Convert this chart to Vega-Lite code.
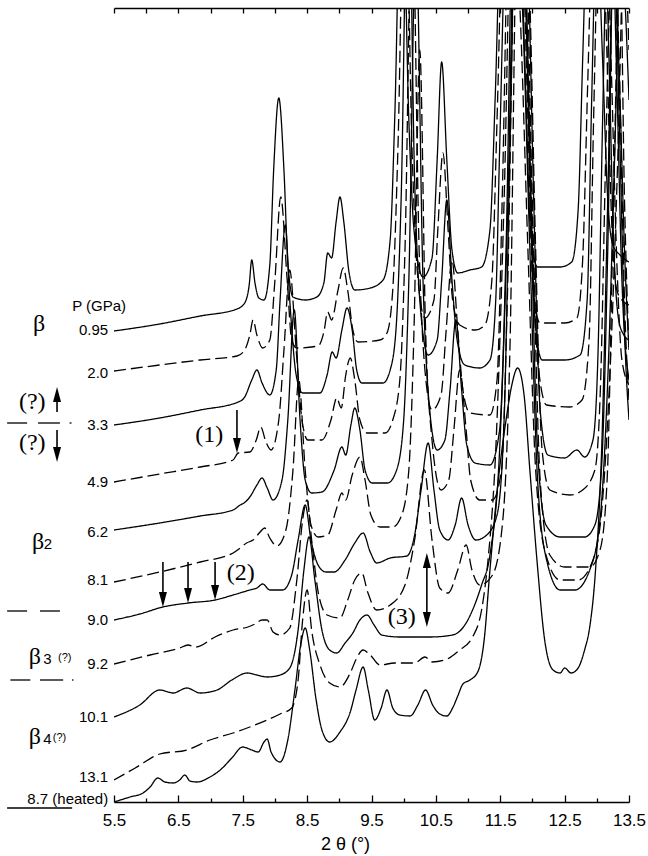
{
"$schema":"https://vega.github.io/schema/vega-lite/v6.json",
"width":515,"height":794,
"autosize":{"type":"none"},
"padding":{"left":114,"top":8,"right":19,"bottom":54},
"background":"white",
"config":{"view":{"stroke":null},"font":"Liberation Sans"},
"datasets":{
"traces":[
{"p":"0.95","x":5.5,"y":471},{"p":"0.95","x":6.21,"y":478},{"p":"0.95","x":6.84,"y":486},{"p":"0.95","x":7.41,"y":493},{"p":"0.95","x":7.53,"y":499},{"p":"0.95","x":7.6,"y":517},{"p":"0.95","x":7.64,"y":542},{"p":"0.95","x":7.69,"y":519},{"p":"0.95","x":7.75,"y":504},{"p":"0.95","x":7.83,"y":502},{"p":"0.95","x":7.92,"y":537},{"p":"0.95","x":7.98,"y":632},{"p":"0.95","x":8.06,"y":704},{"p":"0.95","x":8.14,"y":632},{"p":"0.95","x":8.2,"y":540},{"p":"0.95","x":8.28,"y":505},{"p":"0.95","x":8.47,"y":502},{"p":"0.95","x":8.65,"y":505},{"p":"0.95","x":8.76,"y":519},{"p":"0.95","x":8.82,"y":549},{"p":"0.95","x":8.88,"y":544},{"p":"0.95","x":8.95,"y":580},{"p":"0.95","x":9.01,"y":605},{"p":"0.95","x":9.07,"y":580},{"p":"0.95","x":9.15,"y":530},{"p":"0.95","x":9.24,"y":512},{"p":"0.95","x":9.48,"y":514},{"p":"0.95","x":9.68,"y":522},{"p":"0.95","x":9.79,"y":562},{"p":"0.95","x":9.86,"y":682},{"p":"0.95","x":9.97,"y":952},{"p":"0.95","x":10.08,"y":682},{"p":"0.95","x":10.16,"y":572},{"p":"0.95","x":10.3,"y":525},{"p":"0.95","x":10.44,"y":544},{"p":"0.95","x":10.52,"y":642},{"p":"0.95","x":10.59,"y":740},{"p":"0.95","x":10.67,"y":642},{"p":"0.95","x":10.75,"y":552},{"p":"0.95","x":10.84,"y":529},{"p":"0.95","x":11.03,"y":532},{"p":"0.95","x":11.21,"y":535},{"p":"0.95","x":11.34,"y":572},{"p":"0.95","x":11.42,"y":702},{"p":"0.95","x":11.54,"y":952},{"p":"0.95","x":11.68,"y":1002},{"p":"0.95","x":11.8,"y":902},{"p":"0.95","x":11.9,"y":702},{"p":"0.95","x":11.97,"y":572},{"p":"0.95","x":12.08,"y":535},{"p":"0.95","x":12.43,"y":535},{"p":"0.95","x":12.61,"y":540},{"p":"0.95","x":12.71,"y":592},{"p":"0.95","x":12.78,"y":742},{"p":"0.95","x":12.92,"y":1002},{"p":"0.95","x":13.09,"y":742},{"p":"0.95","x":13.17,"y":602},{"p":"0.95","x":13.25,"y":557},{"p":"0.95","x":13.36,"y":547},{"p":"0.95","x":13.5,"y":540},
{"p":"2.0","x":5.5,"y":431},{"p":"2.0","x":6.21,"y":437},{"p":"2.0","x":6.84,"y":442},{"p":"2.0","x":7.41,"y":446},{"p":"2.0","x":7.53,"y":452},{"p":"2.0","x":7.61,"y":467},{"p":"2.0","x":7.66,"y":482},{"p":"2.0","x":7.72,"y":467},{"p":"2.0","x":7.81,"y":454},{"p":"2.0","x":7.92,"y":462},{"p":"2.0","x":8.0,"y":522},{"p":"2.0","x":8.09,"y":605},{"p":"2.0","x":8.19,"y":522},{"p":"2.0","x":8.26,"y":462},{"p":"2.0","x":8.34,"y":454},{"p":"2.0","x":8.67,"y":456},{"p":"2.0","x":8.76,"y":470},{"p":"2.0","x":8.82,"y":490},{"p":"2.0","x":8.88,"y":482},{"p":"2.0","x":8.98,"y":512},{"p":"2.0","x":9.06,"y":534},{"p":"2.0","x":9.13,"y":512},{"p":"2.0","x":9.21,"y":472},{"p":"2.0","x":9.29,"y":460},{"p":"2.0","x":9.63,"y":462},{"p":"2.0","x":9.74,"y":469},{"p":"2.0","x":9.83,"y":512},{"p":"2.0","x":9.91,"y":652},{"p":"2.0","x":10.02,"y":952},{"p":"2.0","x":10.13,"y":652},{"p":"2.0","x":10.21,"y":532},{"p":"2.0","x":10.33,"y":484},{"p":"2.0","x":10.47,"y":502},{"p":"2.0","x":10.53,"y":572},{"p":"2.0","x":10.61,"y":649},{"p":"2.0","x":10.69,"y":572},{"p":"2.0","x":10.76,"y":502},{"p":"2.0","x":10.87,"y":477},{"p":"2.0","x":11.11,"y":472},{"p":"2.0","x":11.26,"y":477},{"p":"2.0","x":11.37,"y":522},{"p":"2.0","x":11.45,"y":682},{"p":"2.0","x":11.57,"y":952},{"p":"2.0","x":11.71,"y":1002},{"p":"2.0","x":11.83,"y":902},{"p":"2.0","x":11.93,"y":682},{"p":"2.0","x":12.01,"y":512},{"p":"2.0","x":12.12,"y":479},{"p":"2.0","x":12.5,"y":479},{"p":"2.0","x":12.69,"y":484},{"p":"2.0","x":12.78,"y":542},{"p":"2.0","x":12.86,"y":722},{"p":"2.0","x":13.0,"y":1002},{"p":"2.0","x":13.16,"y":742},{"p":"2.0","x":13.23,"y":582},{"p":"2.0","x":13.31,"y":512},{"p":"2.0","x":13.39,"y":502},{"p":"2.0","x":13.5,"y":497},
{"p":"3.3","x":5.5,"y":377},{"p":"3.3","x":6.21,"y":384},{"p":"3.3","x":6.84,"y":392},{"p":"3.3","x":7.43,"y":400},{"p":"3.3","x":7.53,"y":405},{"p":"3.3","x":7.64,"y":422},{"p":"3.3","x":7.72,"y":432},{"p":"3.3","x":7.8,"y":419},{"p":"3.3","x":7.92,"y":407},{"p":"3.3","x":8.02,"y":432},{"p":"3.3","x":8.08,"y":502},{"p":"3.3","x":8.16,"y":577},{"p":"3.3","x":8.23,"y":502},{"p":"3.3","x":8.33,"y":427},{"p":"3.3","x":8.43,"y":409},{"p":"3.3","x":8.7,"y":409},{"p":"3.3","x":8.81,"y":427},{"p":"3.3","x":8.89,"y":450},{"p":"3.3","x":8.95,"y":444},{"p":"3.3","x":9.04,"y":472},{"p":"3.3","x":9.12,"y":494},{"p":"3.3","x":9.2,"y":472},{"p":"3.3","x":9.27,"y":432},{"p":"3.3","x":9.35,"y":419},{"p":"3.3","x":9.68,"y":419},{"p":"3.3","x":9.79,"y":432},{"p":"3.3","x":9.88,"y":472},{"p":"3.3","x":9.96,"y":602},{"p":"3.3","x":10.07,"y":952},{"p":"3.3","x":10.17,"y":622},{"p":"3.3","x":10.25,"y":502},{"p":"3.3","x":10.38,"y":447},{"p":"3.3","x":10.52,"y":462},{"p":"3.3","x":10.59,"y":522},{"p":"3.3","x":10.67,"y":602},{"p":"3.3","x":10.75,"y":522},{"p":"3.3","x":10.83,"y":462},{"p":"3.3","x":10.95,"y":437},{"p":"3.3","x":11.18,"y":434},{"p":"3.3","x":11.34,"y":442},{"p":"3.3","x":11.43,"y":502},{"p":"3.3","x":11.49,"y":652},{"p":"3.3","x":11.62,"y":952},{"p":"3.3","x":11.74,"y":1002},{"p":"3.3","x":11.87,"y":902},{"p":"3.3","x":11.96,"y":652},{"p":"3.3","x":12.04,"y":482},{"p":"3.3","x":12.15,"y":442},{"p":"3.3","x":12.5,"y":442},{"p":"3.3","x":12.74,"y":447},{"p":"3.3","x":12.85,"y":502},{"p":"3.3","x":12.92,"y":702},{"p":"3.3","x":13.05,"y":1002},{"p":"3.3","x":13.19,"y":742},{"p":"3.3","x":13.26,"y":562},{"p":"3.3","x":13.34,"y":482},{"p":"3.3","x":13.42,"y":467},{"p":"3.3","x":13.5,"y":462},
{"p":"4.9","x":5.5,"y":320},{"p":"4.9","x":6.21,"y":328},{"p":"4.9","x":6.84,"y":335},{"p":"4.9","x":7.35,"y":342},{"p":"4.9","x":7.43,"y":349},{"p":"4.9","x":7.61,"y":350},{"p":"4.9","x":7.71,"y":362},{"p":"4.9","x":7.78,"y":375},{"p":"4.9","x":7.86,"y":360},{"p":"4.9","x":7.94,"y":352},{"p":"4.9","x":8.06,"y":382},{"p":"4.9","x":8.14,"y":452},{"p":"4.9","x":8.23,"y":532},{"p":"4.9","x":8.33,"y":452},{"p":"4.9","x":8.42,"y":382},{"p":"4.9","x":8.51,"y":362},{"p":"4.9","x":8.73,"y":362},{"p":"4.9","x":8.87,"y":382},{"p":"4.9","x":8.96,"y":404},{"p":"4.9","x":9.03,"y":394},{"p":"4.9","x":9.1,"y":427},{"p":"4.9","x":9.17,"y":444},{"p":"4.9","x":9.24,"y":422},{"p":"4.9","x":9.32,"y":382},{"p":"4.9","x":9.43,"y":369},{"p":"4.9","x":9.71,"y":369},{"p":"4.9","x":9.83,"y":382},{"p":"4.9","x":9.94,"y":422},{"p":"4.9","x":10.02,"y":552},{"p":"4.9","x":10.13,"y":902},{"p":"4.9","x":10.24,"y":552},{"p":"4.9","x":10.33,"y":432},{"p":"4.9","x":10.44,"y":392},{"p":"4.9","x":10.58,"y":407},{"p":"4.9","x":10.66,"y":472},{"p":"4.9","x":10.75,"y":542},{"p":"4.9","x":10.84,"y":472},{"p":"4.9","x":10.92,"y":412},{"p":"4.9","x":11.03,"y":389},{"p":"4.9","x":11.34,"y":387},{"p":"4.9","x":11.45,"y":422},{"p":"4.9","x":11.53,"y":602},{"p":"4.9","x":11.65,"y":952},{"p":"4.9","x":11.77,"y":1002},{"p":"4.9","x":11.9,"y":882},{"p":"4.9","x":11.99,"y":622},{"p":"4.9","x":12.08,"y":442},{"p":"4.9","x":12.22,"y":397},{"p":"4.9","x":12.58,"y":395},{"p":"4.9","x":12.77,"y":402},{"p":"4.9","x":12.88,"y":462},{"p":"4.9","x":12.95,"y":682},{"p":"4.9","x":13.09,"y":1002},{"p":"4.9","x":13.23,"y":722},{"p":"4.9","x":13.31,"y":542},{"p":"4.9","x":13.39,"y":442},{"p":"4.9","x":13.5,"y":417},
{"p":"6.2","x":5.5,"y":272},{"p":"6.2","x":6.21,"y":279},{"p":"6.2","x":6.84,"y":286},{"p":"6.2","x":7.35,"y":292},{"p":"6.2","x":7.46,"y":297},{"p":"6.2","x":7.52,"y":299},{"p":"6.2","x":7.61,"y":305},{"p":"6.2","x":7.72,"y":317},{"p":"6.2","x":7.8,"y":324},{"p":"6.2","x":7.88,"y":314},{"p":"6.2","x":7.97,"y":302},{"p":"6.2","x":8.11,"y":322},{"p":"6.2","x":8.2,"y":382},{"p":"6.2","x":8.3,"y":492},{"p":"6.2","x":8.39,"y":382},{"p":"6.2","x":8.47,"y":322},{"p":"6.2","x":8.57,"y":309},{"p":"6.2","x":8.73,"y":310},{"p":"6.2","x":8.92,"y":332},{"p":"6.2","x":9.04,"y":355},{"p":"6.2","x":9.1,"y":347},{"p":"6.2","x":9.18,"y":377},{"p":"6.2","x":9.24,"y":394},{"p":"6.2","x":9.32,"y":372},{"p":"6.2","x":9.4,"y":332},{"p":"6.2","x":9.51,"y":319},{"p":"6.2","x":9.75,"y":319},{"p":"6.2","x":9.89,"y":332},{"p":"6.2","x":10.0,"y":382},{"p":"6.2","x":10.08,"y":522},{"p":"6.2","x":10.19,"y":862},{"p":"6.2","x":10.3,"y":522},{"p":"6.2","x":10.39,"y":402},{"p":"6.2","x":10.52,"y":352},{"p":"6.2","x":10.64,"y":362},{"p":"6.2","x":10.72,"y":412},{"p":"6.2","x":10.81,"y":482},{"p":"6.2","x":10.9,"y":412},{"p":"6.2","x":10.98,"y":357},{"p":"6.2","x":11.11,"y":339},{"p":"6.2","x":11.34,"y":337},{"p":"6.2","x":11.49,"y":372},{"p":"6.2","x":11.59,"y":552},{"p":"6.2","x":11.71,"y":952},{"p":"6.2","x":11.82,"y":1002},{"p":"6.2","x":11.93,"y":852},{"p":"6.2","x":12.02,"y":602},{"p":"6.2","x":12.12,"y":392},{"p":"6.2","x":12.24,"y":347},{"p":"6.2","x":12.5,"y":344},{"p":"6.2","x":12.69,"y":352},{"p":"6.2","x":12.81,"y":345},{"p":"6.2","x":12.94,"y":362},{"p":"6.2","x":13.02,"y":452},{"p":"6.2","x":13.09,"y":682},{"p":"6.2","x":13.2,"y":952},{"p":"6.2","x":13.31,"y":722},{"p":"6.2","x":13.39,"y":522},{"p":"6.2","x":13.5,"y":422},
{"p":"8.1","x":5.5,"y":220},{"p":"8.1","x":6.21,"y":230},{"p":"8.1","x":6.84,"y":240},{"p":"8.1","x":7.35,"y":249},{"p":"8.1","x":7.46,"y":254},{"p":"8.1","x":7.56,"y":259},{"p":"8.1","x":7.66,"y":262},{"p":"8.1","x":7.77,"y":270},{"p":"8.1","x":7.84,"y":274},{"p":"8.1","x":7.92,"y":264},{"p":"8.1","x":8.03,"y":256},{"p":"8.1","x":8.17,"y":272},{"p":"8.1","x":8.28,"y":332},{"p":"8.1","x":8.37,"y":422},{"p":"8.1","x":8.47,"y":332},{"p":"8.1","x":8.56,"y":277},{"p":"8.1","x":8.67,"y":265},{"p":"8.1","x":8.82,"y":267},{"p":"8.1","x":8.95,"y":292},{"p":"8.1","x":9.04,"y":309},{"p":"8.1","x":9.1,"y":302},{"p":"8.1","x":9.2,"y":327},{"p":"8.1","x":9.32,"y":345},{"p":"8.1","x":9.4,"y":322},{"p":"8.1","x":9.49,"y":287},{"p":"8.1","x":9.63,"y":275},{"p":"8.1","x":9.83,"y":275},{"p":"8.1","x":9.97,"y":287},{"p":"8.1","x":10.08,"y":332},{"p":"8.1","x":10.16,"y":472},{"p":"8.1","x":10.25,"y":752},{"p":"8.1","x":10.34,"y":472},{"p":"8.1","x":10.44,"y":362},{"p":"8.1","x":10.58,"y":312},{"p":"8.1","x":10.7,"y":322},{"p":"8.1","x":10.78,"y":372},{"p":"8.1","x":10.87,"y":432},{"p":"8.1","x":10.97,"y":372},{"p":"8.1","x":11.04,"y":322},{"p":"8.1","x":11.18,"y":302},{"p":"8.1","x":11.38,"y":302},{"p":"8.1","x":11.52,"y":332},{"p":"8.1","x":11.61,"y":502},{"p":"8.1","x":11.74,"y":902},{"p":"8.1","x":11.85,"y":952},{"p":"8.1","x":11.96,"y":802},{"p":"8.1","x":12.05,"y":552},{"p":"8.1","x":12.15,"y":352},{"p":"8.1","x":12.27,"y":312},{"p":"8.1","x":12.58,"y":307},{"p":"8.1","x":12.78,"y":312},{"p":"8.1","x":12.97,"y":332},{"p":"8.1","x":13.06,"y":422},{"p":"8.1","x":13.14,"y":652},{"p":"8.1","x":13.25,"y":902},{"p":"8.1","x":13.36,"y":702},{"p":"8.1","x":13.43,"y":502},{"p":"8.1","x":13.5,"y":402},
{"p":"9.0","x":5.5,"y":182},{"p":"9.0","x":5.9,"y":188},{"p":"9.0","x":6.26,"y":195},{"p":"9.0","x":6.65,"y":199},{"p":"9.0","x":7.07,"y":202},{"p":"9.0","x":7.35,"y":207},{"p":"9.0","x":7.61,"y":212},{"p":"9.0","x":7.72,"y":214},{"p":"9.0","x":7.81,"y":218},{"p":"9.0","x":7.92,"y":212},{"p":"9.0","x":8.12,"y":212},{"p":"9.0","x":8.26,"y":227},{"p":"9.0","x":8.36,"y":262},{"p":"9.0","x":8.47,"y":297},{"p":"9.0","x":8.56,"y":262},{"p":"9.0","x":8.67,"y":237},{"p":"9.0","x":8.79,"y":230},{"p":"9.0","x":8.92,"y":230},{"p":"9.0","x":9.09,"y":242},{"p":"9.0","x":9.24,"y":259},{"p":"9.0","x":9.37,"y":269},{"p":"9.0","x":9.48,"y":250},{"p":"9.0","x":9.58,"y":239},{"p":"9.0","x":9.79,"y":244},{"p":"9.0","x":10.05,"y":246},{"p":"9.0","x":10.17,"y":267},{"p":"9.0","x":10.27,"y":312},{"p":"9.0","x":10.38,"y":359},{"p":"9.0","x":10.47,"y":312},{"p":"9.0","x":10.56,"y":272},{"p":"9.0","x":10.69,"y":262},{"p":"9.0","x":10.8,"y":277},{"p":"9.0","x":10.9,"y":304},{"p":"9.0","x":11.0,"y":277},{"p":"9.0","x":11.12,"y":262},{"p":"9.0","x":11.29,"y":267},{"p":"9.0","x":11.45,"y":287},{"p":"9.0","x":11.56,"y":382},{"p":"9.0","x":11.65,"y":652},{"p":"9.0","x":11.76,"y":952},{"p":"9.0","x":11.87,"y":852},{"p":"9.0","x":11.97,"y":602},{"p":"9.0","x":12.08,"y":352},{"p":"9.0","x":12.21,"y":277},{"p":"9.0","x":12.43,"y":265},{"p":"9.0","x":12.81,"y":265},{"p":"9.0","x":12.97,"y":277},{"p":"9.0","x":13.08,"y":342},{"p":"9.0","x":13.17,"y":552},{"p":"9.0","x":13.26,"y":852},{"p":"9.0","x":13.36,"y":652},{"p":"9.0","x":13.43,"y":472},{"p":"9.0","x":13.5,"y":382},
{"p":"9.2","x":5.5,"y":138},{"p":"9.2","x":6.06,"y":147},{"p":"9.2","x":6.52,"y":154},{"p":"9.2","x":6.65,"y":157},{"p":"9.2","x":6.77,"y":155},{"p":"9.2","x":7.07,"y":165},{"p":"9.2","x":7.35,"y":172},{"p":"9.2","x":7.58,"y":175},{"p":"9.2","x":7.69,"y":178},{"p":"9.2","x":7.8,"y":182},{"p":"9.2","x":7.88,"y":182},{"p":"9.2","x":7.97,"y":170},{"p":"9.2","x":8.08,"y":167},{"p":"9.2","x":8.23,"y":174},{"p":"9.2","x":8.34,"y":222},{"p":"9.2","x":8.43,"y":282},{"p":"9.2","x":8.5,"y":302},{"p":"9.2","x":8.57,"y":262},{"p":"9.2","x":8.68,"y":207},{"p":"9.2","x":8.81,"y":187},{"p":"9.2","x":9.01,"y":184},{"p":"9.2","x":9.13,"y":202},{"p":"9.2","x":9.24,"y":222},{"p":"9.2","x":9.35,"y":229},{"p":"9.2","x":9.44,"y":210},{"p":"9.2","x":9.58,"y":192},{"p":"9.2","x":9.79,"y":197},{"p":"9.2","x":10.02,"y":217},{"p":"9.2","x":10.17,"y":262},{"p":"9.2","x":10.32,"y":332},{"p":"9.2","x":10.44,"y":262},{"p":"9.2","x":10.56,"y":214},{"p":"9.2","x":10.69,"y":209},{"p":"9.2","x":10.84,"y":232},{"p":"9.2","x":10.97,"y":257},{"p":"9.2","x":11.06,"y":232},{"p":"9.2","x":11.18,"y":217},{"p":"9.2","x":11.38,"y":227},{"p":"9.2","x":11.54,"y":282},{"p":"9.2","x":11.65,"y":452},{"p":"9.2","x":11.77,"y":902},{"p":"9.2","x":11.9,"y":802},{"p":"9.2","x":12.01,"y":552},{"p":"9.2","x":12.12,"y":322},{"p":"9.2","x":12.27,"y":247},{"p":"9.2","x":12.5,"y":235},{"p":"9.2","x":12.89,"y":235},{"p":"9.2","x":13.05,"y":252},{"p":"9.2","x":13.16,"y":322},{"p":"9.2","x":13.26,"y":602},{"p":"9.2","x":13.36,"y":852},{"p":"9.2","x":13.43,"y":602},{"p":"9.2","x":13.5,"y":452},
{"p":"10.1","x":5.5,"y":85},{"p":"10.1","x":5.9,"y":97},{"p":"10.1","x":6.21,"y":112},{"p":"10.1","x":6.42,"y":109},{"p":"10.1","x":6.63,"y":114},{"p":"10.1","x":6.84,"y":109},{"p":"10.1","x":7.1,"y":112},{"p":"10.1","x":7.33,"y":122},{"p":"10.1","x":7.57,"y":129},{"p":"10.1","x":7.72,"y":127},{"p":"10.1","x":7.88,"y":125},{"p":"10.1","x":8.08,"y":127},{"p":"10.1","x":8.23,"y":134},{"p":"10.1","x":8.36,"y":172},{"p":"10.1","x":8.45,"y":232},{"p":"10.1","x":8.53,"y":265},{"p":"10.1","x":8.62,"y":222},{"p":"10.1","x":8.73,"y":172},{"p":"10.1","x":8.85,"y":152},{"p":"10.1","x":8.96,"y":149},{"p":"10.1","x":9.09,"y":159},{"p":"10.1","x":9.21,"y":169},{"p":"10.1","x":9.32,"y":182},{"p":"10.1","x":9.43,"y":187},{"p":"10.1","x":9.54,"y":177},{"p":"10.1","x":9.66,"y":167},{"p":"10.1","x":9.94,"y":165},{"p":"10.1","x":10.41,"y":165},{"p":"10.1","x":10.76,"y":167},{"p":"10.1","x":10.95,"y":177},{"p":"10.1","x":11.07,"y":192},{"p":"10.1","x":11.21,"y":217},{"p":"10.1","x":11.34,"y":247},{"p":"10.1","x":11.49,"y":352},{"p":"10.1","x":11.62,"y":602},{"p":"10.1","x":11.73,"y":902},{"p":"10.1","x":11.84,"y":802},{"p":"10.1","x":11.96,"y":552},{"p":"10.1","x":12.08,"y":322},{"p":"10.1","x":12.22,"y":242},{"p":"10.1","x":12.43,"y":212},{"p":"10.1","x":12.66,"y":212},{"p":"10.1","x":12.89,"y":232},{"p":"10.1","x":13.05,"y":282},{"p":"10.1","x":13.17,"y":422},{"p":"10.1","x":13.28,"y":652},{"p":"10.1","x":13.37,"y":852},{"p":"10.1","x":13.5,"y":702},
{"p":"13.1","x":5.5,"y":22},{"p":"13.1","x":5.83,"y":34},{"p":"13.1","x":6.21,"y":48},{"p":"13.1","x":6.63,"y":52},{"p":"13.1","x":6.99,"y":62},{"p":"13.1","x":7.35,"y":69},{"p":"13.1","x":7.61,"y":75},{"p":"13.1","x":7.88,"y":82},{"p":"13.1","x":8.08,"y":88},{"p":"13.1","x":8.26,"y":94},{"p":"13.1","x":8.36,"y":122},{"p":"13.1","x":8.43,"y":182},{"p":"13.1","x":8.5,"y":212},{"p":"13.1","x":8.57,"y":172},{"p":"13.1","x":8.7,"y":137},{"p":"13.1","x":8.85,"y":119},{"p":"13.1","x":9.01,"y":115},{"p":"13.1","x":9.17,"y":129},{"p":"13.1","x":9.27,"y":144},{"p":"13.1","x":9.37,"y":152},{"p":"13.1","x":9.48,"y":147},{"p":"13.1","x":9.63,"y":137},{"p":"13.1","x":9.86,"y":139},{"p":"13.1","x":10.17,"y":139},{"p":"13.1","x":10.33,"y":145},{"p":"13.1","x":10.44,"y":140},{"p":"13.1","x":10.64,"y":142},{"p":"13.1","x":10.87,"y":152},{"p":"13.1","x":11.07,"y":165},{"p":"13.1","x":11.21,"y":192},{"p":"13.1","x":11.31,"y":242},{"p":"13.1","x":11.43,"y":352},{"p":"13.1","x":11.56,"y":602},{"p":"13.1","x":11.68,"y":902},{"p":"13.1","x":11.8,"y":802},{"p":"13.1","x":11.93,"y":552},{"p":"13.1","x":12.05,"y":332},{"p":"13.1","x":12.21,"y":247},{"p":"13.1","x":12.43,"y":222},{"p":"13.1","x":12.71,"y":222},{"p":"13.1","x":12.94,"y":242},{"p":"13.1","x":13.09,"y":302},{"p":"13.1","x":13.22,"y":452},{"p":"13.1","x":13.33,"y":652},{"p":"13.1","x":13.42,"y":852},{"p":"13.1","x":13.5,"y":752},
{"p":"8.7h","x":5.5,"y":0},{"p":"8.7h","x":5.75,"y":5},{"p":"8.7h","x":5.95,"y":9},{"p":"8.7h","x":6.06,"y":15},{"p":"8.7h","x":6.18,"y":24},{"p":"8.7h","x":6.29,"y":20},{"p":"8.7h","x":6.42,"y":19},{"p":"8.7h","x":6.52,"y":22},{"p":"8.7h","x":6.6,"y":27},{"p":"8.7h","x":6.68,"y":21},{"p":"8.7h","x":6.79,"y":20},{"p":"8.7h","x":6.99,"y":25},{"p":"8.7h","x":7.15,"y":32},{"p":"8.7h","x":7.33,"y":44},{"p":"8.7h","x":7.5,"y":55},{"p":"8.7h","x":7.64,"y":52},{"p":"8.7h","x":7.74,"y":50},{"p":"8.7h","x":7.83,"y":60},{"p":"8.7h","x":7.88,"y":63},{"p":"8.7h","x":7.94,"y":50},{"p":"8.7h","x":8.08,"y":40},{"p":"8.7h","x":8.2,"y":62},{"p":"8.7h","x":8.31,"y":112},{"p":"8.7h","x":8.4,"y":157},{"p":"8.7h","x":8.47,"y":174},{"p":"8.7h","x":8.54,"y":152},{"p":"8.7h","x":8.64,"y":102},{"p":"8.7h","x":8.73,"y":72},{"p":"8.7h","x":8.85,"y":60},{"p":"8.7h","x":9.01,"y":70},{"p":"8.7h","x":9.17,"y":90},{"p":"8.7h","x":9.26,"y":112},{"p":"8.7h","x":9.37,"y":135},{"p":"8.7h","x":9.45,"y":112},{"p":"8.7h","x":9.55,"y":82},{"p":"8.7h","x":9.65,"y":94},{"p":"8.7h","x":9.74,"y":112},{"p":"8.7h","x":9.83,"y":94},{"p":"8.7h","x":9.94,"y":87},{"p":"8.7h","x":10.1,"y":86},{"p":"8.7h","x":10.22,"y":97},{"p":"8.7h","x":10.34,"y":112},{"p":"8.7h","x":10.45,"y":97},{"p":"8.7h","x":10.56,"y":88},{"p":"8.7h","x":10.67,"y":86},{"p":"8.7h","x":10.76,"y":94},{"p":"8.7h","x":10.84,"y":106},{"p":"8.7h","x":10.92,"y":118},{"p":"8.7h","x":11.03,"y":122},{"p":"8.7h","x":11.15,"y":130},{"p":"8.7h","x":11.25,"y":162},{"p":"8.7h","x":11.34,"y":232},{"p":"8.7h","x":11.47,"y":322},{"p":"8.7h","x":11.59,"y":382},{"p":"8.7h","x":11.68,"y":417},{"p":"8.7h","x":11.77,"y":434},{"p":"8.7h","x":11.87,"y":407},{"p":"8.7h","x":11.96,"y":332},{"p":"8.7h","x":12.07,"y":242},{"p":"8.7h","x":12.19,"y":162},{"p":"8.7h","x":12.32,"y":132},{"p":"8.7h","x":12.43,"y":129},{"p":"8.7h","x":12.5,"y":134},{"p":"8.7h","x":12.6,"y":129},{"p":"8.7h","x":12.71,"y":134},{"p":"8.7h","x":12.81,"y":152},{"p":"8.7h","x":12.89,"y":175},{"p":"8.7h","x":12.98,"y":232},{"p":"8.7h","x":13.08,"y":362},{"p":"8.7h","x":13.17,"y":602},{"p":"8.7h","x":13.26,"y":852},{"p":"8.7h","x":13.36,"y":702},{"p":"8.7h","x":13.43,"y":552},{"p":"8.7h","x":13.5,"y":452}
],
"plabels":[{"label":"0.95","x":5.41,"y":472},{"label":"2.0","x":5.41,"y":429},{"label":"3.3","x":5.41,"y":377},{"label":"4.9","x":5.41,"y":320},{"label":"6.2","x":5.41,"y":270},{"label":"8.1","x":5.41,"y":222},{"label":"9.0","x":5.41,"y":182},{"label":"9.2","x":5.41,"y":138},{"label":"10.1","x":5.41,"y":85},{"label":"13.1","x":5.41,"y":25},{"label":"8.7 (heated)","x":5.41,"y":3}],
"ptitle":[{"label":"P (GPa)","x":4.85,"y":496}],
"betas":[{"label":"β","x":4.335,"y":478},{"label":"β","x":4.32,"y":260},{"label":"β","x":4.27,"y":145},{"label":"β","x":4.27,"y":65}],
"subs":[{"label":"2","x":4.41,"y":258},{"label":"3","x":4.40,"y":143},{"label":"4","x":4.40,"y":63}],
"smallq":[{"label":"(?)","x":4.63,"y":144},{"label":"(?)","x":4.55,"y":64}],
"serif":[{"label":"(?)","x":4.23,"y":400},{"label":"(?)","x":4.23,"y":359},{"label":"(1)","x":6.98,"y":367},{"label":"(2)","x":7.47,"y":229},{"label":"(3)","x":9.97,"y":185}],
"seps":[{"x":3.84,"x2":4.15,"y":379},{"x":4.32,"x2":4.66,"y":379},{"x":4.81,"x2":4.84,"y":379},{"x":3.84,"x2":4.15,"y":191},{"x":4.35,"x2":4.66,"y":191},{"x":3.89,"x2":4.2,"y":122},{"x":4.35,"x2":4.71,"y":122},{"x":4.85,"x2":4.87,"y":122},{"x":3.84,"x2":4.85,"y":-6}],
"shafts":[{"x":7.41,"y":392,"y2":356},{"x":6.26,"y":240,"y2":202},{"x":6.65,"y":240,"y2":206},{"x":7.07,"y":240,"y2":209},{"x":10.36,"y":242,"y2":182},{"x":4.615,"y":408,"y2":390},{"x":4.615,"y":372,"y2":347}],
"downheads":[{"x":7.41,"y":349},{"x":6.26,"y":195},{"x":6.65,"y":199},{"x":7.07,"y":202},{"x":10.36,"y":175},{"x":4.615,"y":340}],
"upheads":[{"x":10.36,"y":249},{"x":4.615,"y":415}]
},
"resolve":{"axis":{"x":"independent"}},
"layer":[
{"data":{"name":"traces"},
 "mark":{"type":"line","interpolate":"monotone","strokeWidth":1.3,"color":"black","clip":true},
 "encoding":{
  "x":{"field":"x","type":"quantitative","scale":{"domain":[5.5,13.5],"nice":false,"zero":false},
   "axis":{"orient":"bottom","values":[5.5,6,6.5,7,7.5,8,8.5,9,9.5,10,10.5,11,11.5,12,12.5,13,13.5],
    "labelExpr":"datum.value % 1 == 0.5 ? format(datum.value, '.1f') : ''",
    "tickSize":{"condition":{"test":"datum.value % 1 == 0.5","value":-7},"value":-4},
    "labelPadding":17,"labelFontSize":17,"labelFont":"Liberation Sans","labelColor":"black","labelFlush":false,"labelOverlap":false,
    "domainColor":"black","domainWidth":1.3,"tickColor":"black","tickWidth":1.3,"grid":false,
    "title":"2 θ (°)","titleFontSize":18,"titleFont":"Liberation Sans","titleFontWeight":"normal","titleColor":"black","titleX":231,"titleY":33,"titleBaseline":"top"}},
  "y":{"field":"y","type":"quantitative","scale":{"domain":[0,794],"nice":false,"zero":false},"axis":null},
  "strokeDash":{"field":"p","type":"nominal","legend":null,
   "scale":{"domain":["0.95","2.0","3.3","4.9","6.2","8.1","9.0","9.2","10.1","13.1","8.7h"],
   "range":[[1,0],[12,5],[1,0],[12,5],[1,0],[12,5],[1,0],[12,5],[1,0],[12,5],[1,0]]}}
 }},
{"data":{"name":"plabels"},
 "mark":{"type":"text","align":"right","baseline":"middle","fontSize":15,"font":"Liberation Sans","color":"black"},
 "encoding":{
  "x":{"field":"x","type":"quantitative","scale":{"domain":[5.5,13.5],"nice":false,"zero":false},
   "axis":{"orient":"top","values":[5.5,6,6.5,7,7.5,8,8.5,9,9.5,10,10.5,11,11.5,12,12.5,13,13.5],"labels":false,"tickSize":-5,"domainColor":"black","domainWidth":1.3,"tickColor":"black","tickWidth":1.3,"title":null,"grid":false}},
  "y":{"field":"y","type":"quantitative","scale":{"domain":[0,794],"nice":false,"zero":false},"axis":null},
  "text":{"field":"label"}}},
{"data":{"name":"ptitle"},
 "mark":{"type":"text","align":"left","baseline":"middle","fontSize":15,"font":"Liberation Sans","color":"black"},
 "encoding":{
  "x":{"field":"x","type":"quantitative","scale":{"domain":[5.5,13.5],"nice":false,"zero":false},"axis":null},
  "y":{"field":"y","type":"quantitative","scale":{"domain":[0,794],"nice":false,"zero":false},"axis":null},
  "text":{"field":"label"}}},
{"data":{"name":"betas"},
 "mark":{"type":"text","align":"center","baseline":"middle","fontSize":24,"font":"Liberation Serif","color":"black"},
 "encoding":{
  "x":{"field":"x","type":"quantitative","scale":{"domain":[5.5,13.5],"nice":false,"zero":false},"axis":null},
  "y":{"field":"y","type":"quantitative","scale":{"domain":[0,794],"nice":false,"zero":false},"axis":null},
  "text":{"field":"label"}}},
{"data":{"name":"subs"},
 "mark":{"type":"text","align":"left","baseline":"middle","fontSize":15,"font":"Liberation Sans","color":"black"},
 "encoding":{
  "x":{"field":"x","type":"quantitative","scale":{"domain":[5.5,13.5],"nice":false,"zero":false},"axis":null},
  "y":{"field":"y","type":"quantitative","scale":{"domain":[0,794],"nice":false,"zero":false},"axis":null},
  "text":{"field":"label"}}},
{"data":{"name":"smallq"},
 "mark":{"type":"text","align":"left","baseline":"middle","fontSize":11,"font":"Liberation Sans","color":"black"},
 "encoding":{
  "x":{"field":"x","type":"quantitative","scale":{"domain":[5.5,13.5],"nice":false,"zero":false},"axis":null},
  "y":{"field":"y","type":"quantitative","scale":{"domain":[0,794],"nice":false,"zero":false},"axis":null},
  "text":{"field":"label"}}},
{"data":{"name":"serif"},
 "mark":{"type":"text","align":"center","baseline":"middle","fontSize":24,"font":"Liberation Serif","color":"black"},
 "encoding":{
  "x":{"field":"x","type":"quantitative","scale":{"domain":[5.5,13.5],"nice":false,"zero":false},"axis":null},
  "y":{"field":"y","type":"quantitative","scale":{"domain":[0,794],"nice":false,"zero":false},"axis":null},
  "text":{"field":"label"}}},
{"data":{"name":"seps"},
 "mark":{"type":"rule","strokeWidth":1.3,"color":"black"},
 "encoding":{
  "x":{"field":"x","type":"quantitative","scale":{"domain":[5.5,13.5],"nice":false,"zero":false},"axis":null},
  "x2":{"field":"x2"},
  "y":{"field":"y","type":"quantitative","scale":{"domain":[0,794],"nice":false,"zero":false},"axis":null}}},
{"data":{"name":"shafts"},
 "mark":{"type":"rule","strokeWidth":1.6,"color":"black"},
 "encoding":{
  "x":{"field":"x","type":"quantitative","scale":{"domain":[5.5,13.5],"nice":false,"zero":false},"axis":null},
  "y":{"field":"y","type":"quantitative","scale":{"domain":[0,794],"nice":false,"zero":false},"axis":null},
  "y2":{"field":"y2"}}},
{"data":{"name":"downheads"},
 "mark":{"type":"point","shape":"M0,0L-0.8,-3L0.8,-3Z","size":100,"filled":true,"color":"black","opacity":1},
 "encoding":{
  "x":{"field":"x","type":"quantitative","scale":{"domain":[5.5,13.5],"nice":false,"zero":false},"axis":null},
  "y":{"field":"y","type":"quantitative","scale":{"domain":[0,794],"nice":false,"zero":false},"axis":null}}},
{"data":{"name":"upheads"},
 "mark":{"type":"point","shape":"M0,0L-0.8,3L0.8,3Z","size":100,"filled":true,"color":"black","opacity":1},
 "encoding":{
  "x":{"field":"x","type":"quantitative","scale":{"domain":[5.5,13.5],"nice":false,"zero":false},"axis":null},
  "y":{"field":"y","type":"quantitative","scale":{"domain":[0,794],"nice":false,"zero":false},"axis":null}}}
]
}
